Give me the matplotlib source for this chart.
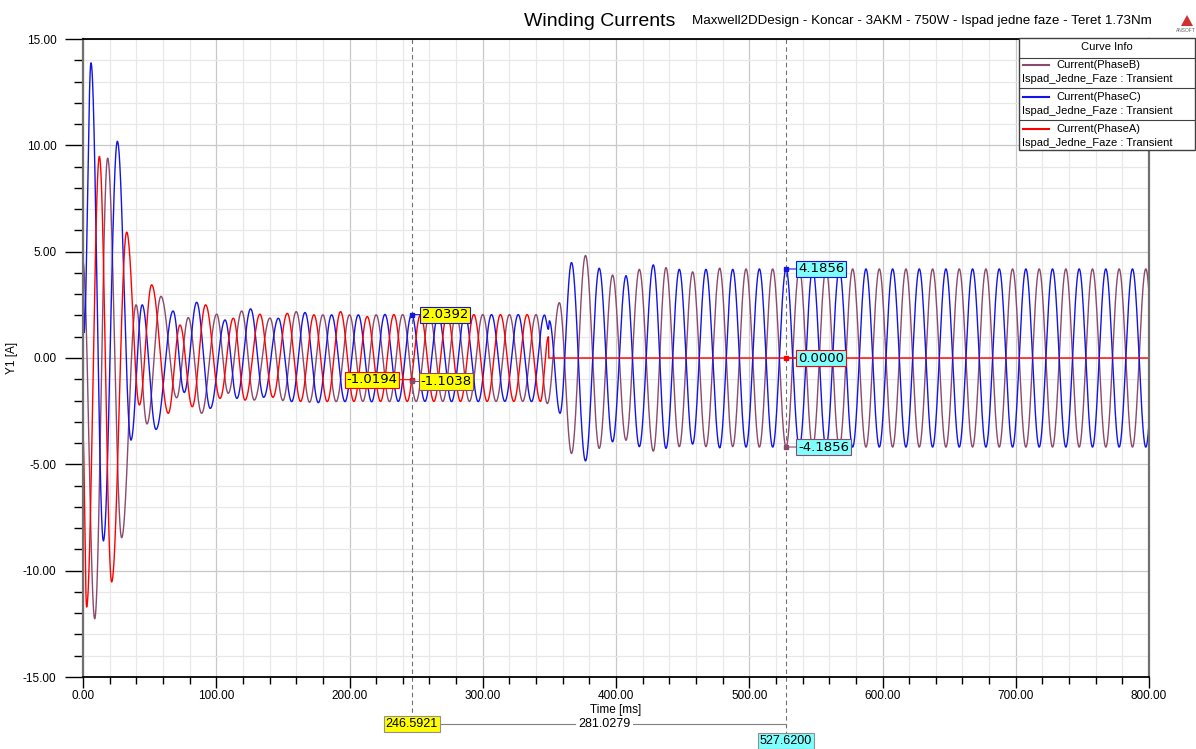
import numpy as np
import matplotlib.pyplot as plt
from matplotlib.ticker import MultipleLocator, FormatStrFormatter
from matplotlib.transforms import Affine2D
from matplotlib.patches import Rectangle, Polygon
from matplotlib.lines import Line2D

plt.rcParams['font.family'] = ['Liberation Sans', 'DejaVu Sans']
plt.rcParams['axes.unicode_minus'] = False

# extrema (peaks / troughs): time [ms], current [A]
c_t = [0.0, 0.8, 6.0, 15.3, 25.8, 36.0, 44.4, 54.8, 67.6, 76.0, 85.3, 95.5, 106.6, 115.5,
       125.8, 135.6, 146.6, 156.6, 166.6, 176.6, 186.6, 196.6, 206.6, 216.6, 226.6, 236.6,
       246.59, 256.6, 266.6, 276.6, 286.6, 296.6, 306.6, 316.6, 326.6, 336.6, 346.3, 349.3,
       350.0, 358.0, 366.6, 377.1, 387.4, 397.4, 407.5, 417.5, 428.0, 437.5, 447.5, 457.5,
       467.5, 477.8, 487.6, 497.6, 507.6, 517.6, 527.62, 537.6, 547.6, 557.6, 567.6, 577.6,
       587.6, 597.6, 607.6, 617.6, 627.6, 637.6, 647.6, 657.6, 667.6, 677.6, 687.6, 697.6,
       707.6, 717.6, 727.6, 737.6, 747.6, 757.6, 767.6, 777.6, 787.6, 797.6, 807.6]
c_i = [4.8, 1.2, 13.88, -8.6, 10.19, -3.86, 2.5, -3.36, 2.21, -1.62, 2.62, -2.37, 1.79, -1.9,
       2.31, -1.85, 1.87, -2.05, 2.14, -2.1, 2.03, -2.05, 2.03, -2.06, 2.05, -2.04,
       2.0392, -2.04, 2.03, -2.05, 2.04, -2.05, 2.04, -2.04, 2.04, -2.05, 2.02, 1.35,
       1.75, -2.6, 4.49, -4.84, 4.22, -3.94, 3.86, -4.17, 4.38, -4.25, 4.17, -4.05,
       4.17, -4.22, 4.17, -4.19, 4.19, -4.19, 4.1856, -4.19, 4.19, -4.19, 4.19, -4.19,
       4.19, -4.19, 4.19, -4.19, 4.19, -4.19, 4.19, -4.19, 4.19, -4.19, 4.19, -4.19,
       4.19, -4.19, 4.19, -4.19, 4.19, -4.19, 4.19, -4.19, 4.19, -4.19, 4.19]

b_t = [0.0, 8.8, 18.5, 29.0, 39.8, 48.0, 58.5, 70.3, 79.0, 89.0, 100.3, 109.0, 119.1, 128.5,
       140.3, 150.0, 160.0, 170.0, 180.0, 190.0, 200.0, 210.0, 220.0, 230.0, 239.9, 250.0,
       260.0, 270.0, 280.0, 290.0, 300.0, 310.0, 320.0, 330.0, 340.0, 348.5, 357.5, 366.6,
       377.1, 387.4, 397.4, 407.5, 417.5, 428.0, 437.5, 447.5, 457.5, 467.5, 477.8, 487.6,
       497.6, 507.6, 517.6, 527.62, 537.6, 547.6, 557.6, 567.6, 577.6, 587.6, 597.6, 607.6,
       617.6, 627.6, 637.6, 647.6, 657.6, 667.6, 677.6, 687.6, 697.6, 707.6, 717.6, 727.6,
       737.6, 747.6, 757.6, 767.6, 777.6, 787.6, 797.6, 807.6]
b_i = [4.5, -12.26, 9.40, -8.45, 2.5, -3.1, 2.9, -1.87, 1.9, -2.6, 2.06, -1.66, 2.21, -1.98,
       1.88, -2.0, 2.18, -2.08, 2.03, -2.05, 2.03, -2.04, 2.03, -2.05, 2.04, -2.04,
       2.04, -2.04, 2.04, -2.04, 2.04, -2.04, 2.04, -2.04, 2.04, -2.14, 2.6, -4.49,
       4.82, -4.25, 3.9, -3.86, 4.17, -4.38, 4.25, -4.17, 4.05, -4.17, 4.22, -4.17,
       4.19, -4.19, 4.19, -4.1856, 4.19, -4.19, 4.19, -4.19, 4.19, -4.19, 4.19, -4.19,
       4.19, -4.19, 4.19, -4.19, 4.19, -4.19, 4.19, -4.19, 4.19, -4.19, 4.19, -4.19,
       4.19, -4.19, 4.19, -4.19, 4.19, -4.19, 4.19, -4.19]

a_t = [0.0, 2.7, 12.3, 21.5, 32.8, 42.3, 51.5, 64.0, 72.8, 82.0, 92.0, 102.8, 112.8, 121.6,
       132.8, 142.5, 153.3, 163.3, 173.3, 183.3, 193.3, 203.3, 213.3, 223.3, 233.3, 243.3,
       253.3, 263.3, 273.3, 283.3, 293.3, 303.3, 313.3, 323.3, 333.3, 343.3, 349.3, 349.6,
       800.0]
a_i = [-3.7, -11.71, 9.48, -10.53, 5.92, -2.21, 3.44, -2.6, 1.55, -2.29, 2.5, -1.9, 1.87, -1.98,
       2.06, -1.85, 2.1, -2.04, 2.03, -2.05, 2.18, -2.04, 1.95, -2.04, 2.04, -2.04,
       2.04, -2.04, 2.04, -2.04, 2.04, -2.04, 2.04, -2.04, 2.04, -2.04, 1.0, 0.0,
       0.0]

# marker readouts
m1_t, m2_t = 246.5921, 527.6200
m1_vals = [2.0392, -1.0194, -1.1038]
m2_vals = [4.1856, 0.0000, -4.1856]

col_b = '#8a4a6c'
col_c = '#1414e6'
col_a = '#ff0000'


def trace(te, ve, step=0.1):
    # smooth half-cosine between successive extrema
    ts, vs = [], []
    for k in range(len(te) - 1):
        t = np.arange(te[k], te[k + 1], step)
        u = (t - te[k]) / (te[k + 1] - te[k])
        ts.append(t)
        vs.append((ve[k] + ve[k + 1]) / 2 + (ve[k] - ve[k + 1]) / 2 * np.cos(np.pi * u))
    ts.append([te[-1]])
    vs.append([ve[-1]])
    return np.concatenate(ts), np.concatenate(vs)


W, H = 1196, 749
fig = plt.figure(figsize=(W / 100, H / 100), dpi=100)
ax = fig.add_axes([83 / W, 1 - 677 / H, 1066 / W, 638 / H])
px = Affine2D().scale(1 / W, -1 / H).translate(0, 1) + fig.transFigure

for te, ve, c in [(b_t, b_i, col_b), (c_t, c_i, col_c), (a_t, a_i, col_a)]:
    t, v = trace(te, ve)
    ax.plot(t, v, color=c, lw=1.0)

ax.set_xlim(0, 800)
ax.set_ylim(-15, 15)
ax.xaxis.set_major_locator(MultipleLocator(100))
ax.xaxis.set_minor_locator(MultipleLocator(20))
ax.yaxis.set_major_locator(MultipleLocator(5))
ax.yaxis.set_minor_locator(MultipleLocator(1))
ax.xaxis.set_major_formatter(FormatStrFormatter('%.2f'))
ax.yaxis.set_major_formatter(FormatStrFormatter('%.2f'))
ax.grid(which='major', color='#c8c8c8', lw=0.9)
ax.grid(which='minor', color='#e8e8e8', lw=0.9)
ax.set_axisbelow(True)
ax.tick_params(axis='y', which='major', length=13, width=1, pad=6, labelsize=8.5)
ax.tick_params(axis='y', which='minor', length=6.5, width=1)
ax.tick_params(axis='x', which='major', length=8, width=1, pad=1.5, labelsize=8.5)
ax.tick_params(axis='x', which='minor', length=5, width=1)
for s in ['left', 'right']:
    ax.spines[s].set_color('#707070')
    ax.spines[s].set_linewidth(1.6)
for s in ['top', 'bottom']:
    ax.spines[s].set_color('black')
    ax.spines[s].set_linewidth(1.3)

ax.set_xlabel('Time [ms]', fontsize=8.5, labelpad=1)
ax.set_ylabel('Y1 [A]', fontsize=8.5)
ax.yaxis.set_label_coords(-0.061, 0.5)

# marker lines
xt = ax.get_xaxis_transform()
ax.plot([m1_t, m1_t], [1, -0.061], transform=xt, color='#707070', lw=0.8,
        ls=(0, (4, 3)), clip_on=False)
ax.plot([m2_t, m2_t], [1, -0.088], transform=xt, color='#707070', lw=0.8,
        ls=(0, (4, 3)), clip_on=False)

yel, cya = '#ffff00', '#80ffff'


def callout(x, y, txt, fc, ec, dx):
    ax.plot([x], [y], 's', ms=2.5, color=ec, zorder=5)
    ax.annotate(txt, xy=(x, y), xytext=(dx, 0), textcoords='offset pixels',
                ha='left' if dx > 0 else 'right', va='center', fontsize=9.5,
                family='DejaVu Sans',
                bbox=dict(boxstyle='square,pad=0.12', fc=fc, ec=ec, lw=0.8),
                arrowprops=dict(arrowstyle='-', color=ec, lw=0.8, shrinkA=0, shrinkB=0),
                zorder=6)


callout(m1_t, m1_vals[0], '%.4f' % m1_vals[0], yel, col_c, 10)
callout(m1_t, m1_vals[1], '%.4f' % m1_vals[1], yel, col_a, -14)
callout(m1_t, m1_vals[2], '%.4f' % m1_vals[2], yel, col_b, 9)
callout(m2_t, m2_vals[0], '%.4f' % m2_vals[0], cya, col_c, 12)
callout(m2_t, m2_vals[1], '%.4f' % m2_vals[1], cya, col_a, 12)
callout(m2_t, m2_vals[2], '%.4f' % m2_vals[2], cya, col_b, 12)

# delta readout under the axis
ax.plot([m1_t, m2_t], [-0.0737, -0.0737], transform=xt, color='#808080', lw=0.8,
        clip_on=False)
ax.text(m1_t, -0.0737, '%.4f' % m1_t, transform=xt, ha='center', va='center', fontsize=9,
        bbox=dict(boxstyle='square,pad=0.15', fc=yel, ec='#909090', lw=0.8))
ax.text((m1_t + m2_t) / 2 + 4, -0.0737, '%.4f' % (m2_t - m1_t), transform=xt, ha='center',
        va='center', fontsize=9, bbox=dict(boxstyle='square,pad=0.2', fc='white', ec='none'))
ax.text(m2_t, -0.1003, '%.4f' % m2_t, transform=xt, ha='center', va='center', fontsize=9,
        bbox=dict(boxstyle='square,pad=0.15', fc=cya, ec='#909090', lw=0.8))

# title
fig.text(524 / W, 1 - 22 / H, 'Winding Currents', fontsize=14, va='center', ha='left')
fig.text(692 / W, 1 - 21 / H,
         'Maxwell2DDesign - Koncar - 3AKM - 750W - Ispad jedne faze - Teret 1.73Nm',
         fontsize=9.6, va='center', ha='left')
fig.patches.append(Polygon([[1181, 26], [1187, 15], [1193, 26]], closed=True,
                           fc='#d03030', ec='none', transform=px, figure=fig))
fig.text(1186 / W, 1 - 30 / H, 'ANSOFT', fontsize=3.5, ha='center', va='center', color='#606060')

# curve info box
fig.patches.append(Rectangle((1019, 38), 176, 112, fc='white', ec='#404040', lw=1.0,
                             transform=px, figure=fig, zorder=10))
fig.text(1107 / W, 1 - 47 / H, 'Curve Info', fontsize=8, ha='center', va='center', zorder=11)
for ysep in [58, 87.5, 119.5]:
    fig.lines.append(Line2D([1019, 1195], [ysep, ysep], color='#404040', lw=0.8,
                            transform=px, figure=fig, zorder=11))
names = ['Current(PhaseB)', 'Current(PhaseC)', 'Current(PhaseA)']
for k, (nm, c) in enumerate(zip(names, [col_b, col_c, col_a])):
    y1 = 65 + 32 * k
    fig.lines.append(Line2D([1023, 1049], [y1, y1], color=c, lw=1.5, transform=px,
                            figure=fig, zorder=11))
    fig.text(1056 / W, 1 - y1 / H, nm, fontsize=8, ha='left', va='center', zorder=11)
    fig.text(1022 / W, 1 - (y1 + 14.5) / H, 'Ispad_Jedne_Faze : Transient', fontsize=8,
             ha='left', va='center', zorder=11)

fig.savefig('out.png', dpi=100)
